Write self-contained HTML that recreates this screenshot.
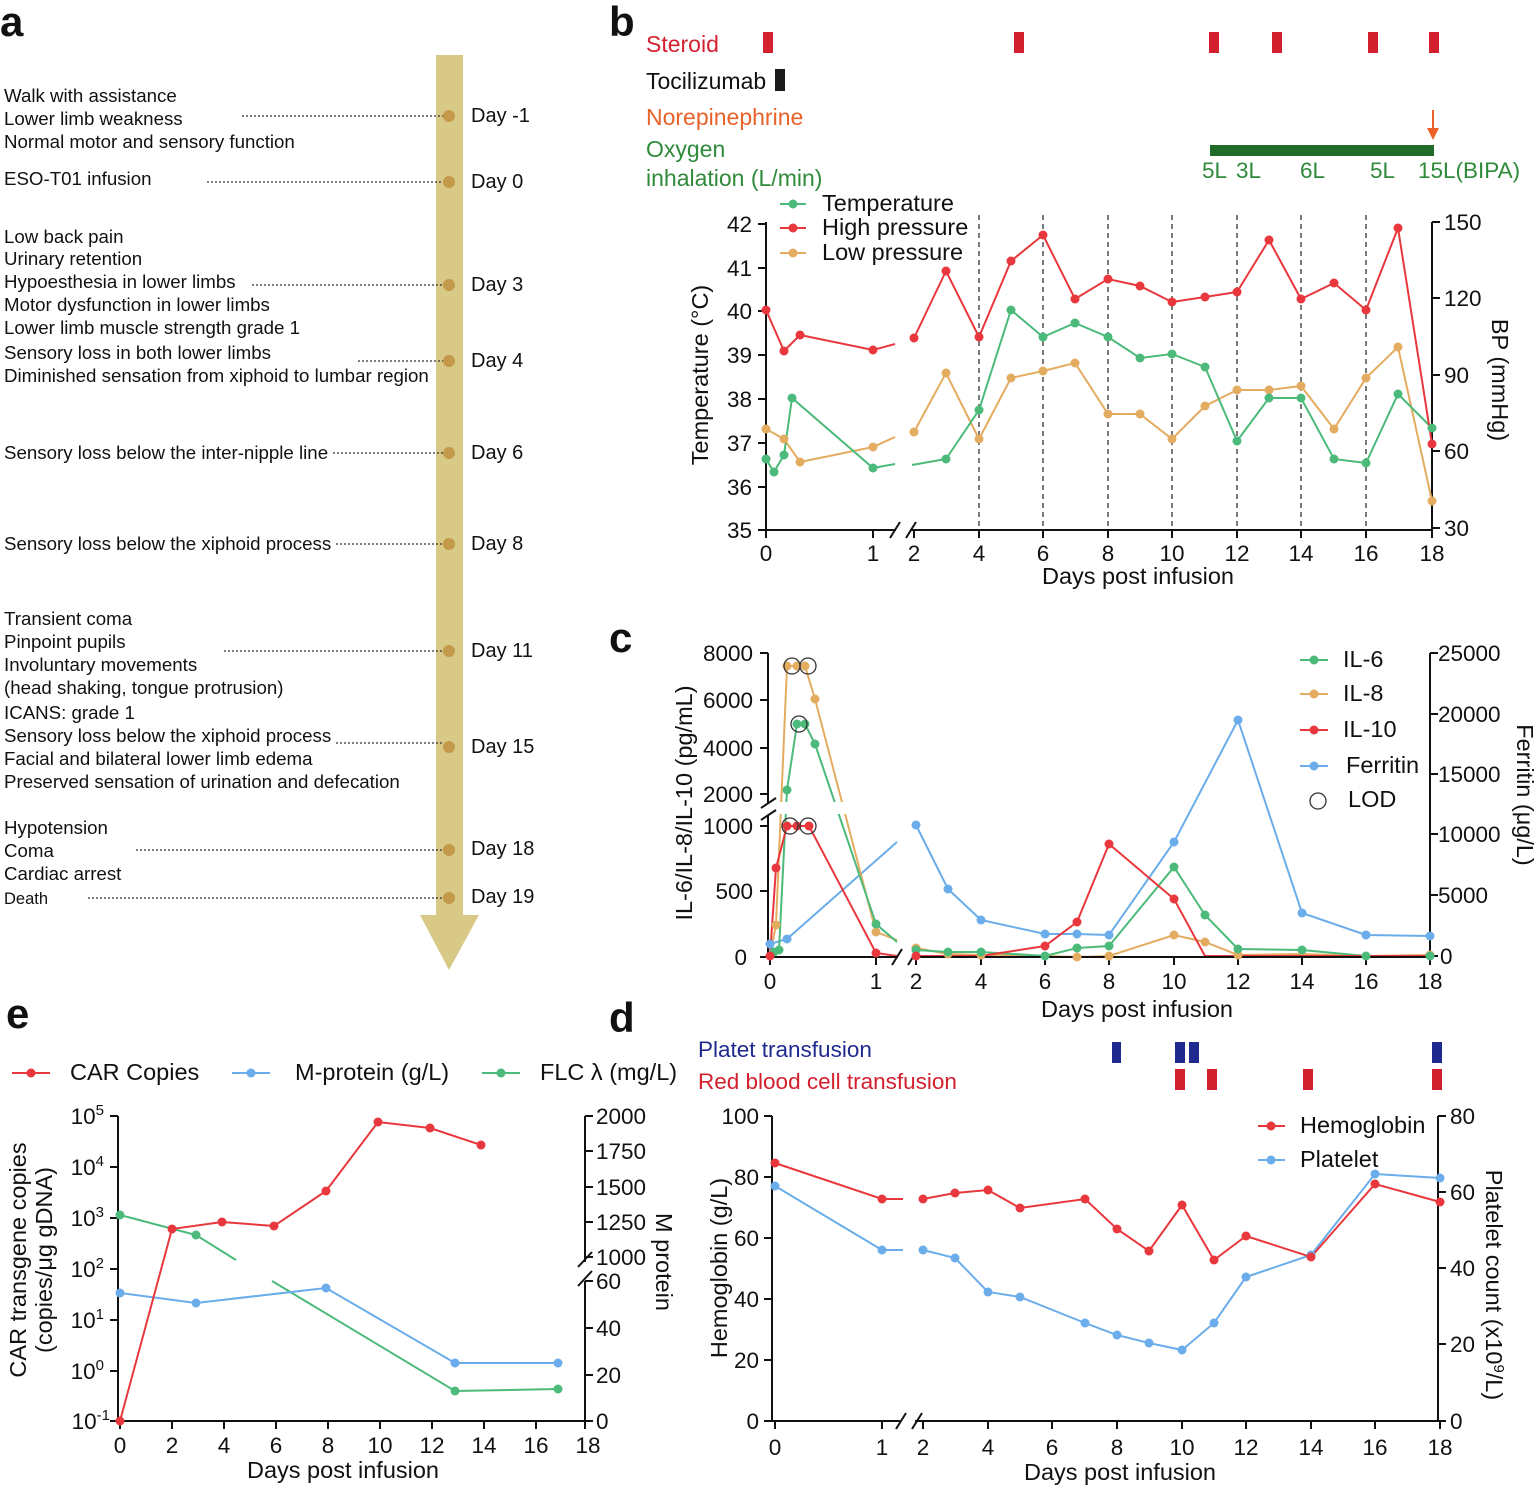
<!DOCTYPE html>
<html><head><meta charset="utf-8"><style>
html,body{margin:0;padding:0;background:#fff}
svg{display:block;font-family:"Liberation Sans",Arial,sans-serif}
</style></head><body>
<svg width="1536" height="1486" viewBox="0 0 1536 1486" xmlns="http://www.w3.org/2000/svg">
<defs>
<style>
.t{font-size:18.7px;fill:#111}
.ax{stroke:#111;stroke-width:2;fill:none}
.tk{font-size:22.5px;fill:#111}
.lb{font-size:23.5px;fill:#111}
.dy{font-size:20px;fill:#111}
.pl{font-size:42px;font-weight:bold;fill:#111}
.r{stroke:#e8383d;stroke-width:2;fill:none}
.g{stroke:#4cba7a;stroke-width:2;fill:none}
.o{stroke:#e4ac60;stroke-width:2;fill:none}
.b{stroke:#6aadea;stroke-width:2;fill:none}
.dr{fill:#e8383d}.dg{fill:#4cba7a}.do{fill:#e4ac60}.db{fill:#6aadea}
</style>
</defs>

<!-- Panel a -->
<text class="pl" x="0" y="36">a</text>
<rect x="436" y="55" width="27" height="862" fill="#d8c987"/>
<polygon points="420,915 479,915 449,970" fill="#d8c987"/>
<g fill="#c49a4a">
<circle cx="449" cy="116" r="6"/><circle cx="449" cy="182" r="6"/><circle cx="449" cy="285" r="6"/><circle cx="449" cy="361" r="6"/><circle cx="449" cy="453" r="6"/><circle cx="449" cy="544" r="6"/><circle cx="449" cy="651" r="6"/><circle cx="449" cy="747" r="6"/><circle cx="449" cy="850" r="6"/><circle cx="449" cy="898" r="6"/>
</g>
<g stroke="#333" stroke-width="1.3" stroke-dasharray="2,2">
<line x1="242" y1="116" x2="443" y2="116"/><line x1="207" y1="182" x2="443" y2="182"/><line x1="252" y1="285" x2="443" y2="285"/><line x1="358" y1="361" x2="443" y2="361"/><line x1="333" y1="453" x2="443" y2="453"/><line x1="336" y1="544" x2="443" y2="544"/><line x1="224" y1="651" x2="443" y2="651"/><line x1="336" y1="743" x2="443" y2="743"/><line x1="136" y1="850" x2="443" y2="850"/><line x1="88" y1="898" x2="443" y2="898"/>
</g>
<g>
<text x="471" y="122" class="dy">Day -1</text><text x="471" y="188" class="dy">Day 0</text><text x="471" y="291" class="dy">Day 3</text><text x="471" y="367" class="dy">Day 4</text><text x="471" y="459" class="dy">Day 6</text><text x="471" y="550" class="dy">Day 8</text><text x="471" y="657" class="dy">Day 11</text><text x="471" y="753" class="dy">Day 15</text><text x="471" y="855" class="dy">Day 18</text><text x="471" y="903" class="dy">Day 19</text>
</g>
<g class="t">
<text x="4" y="102">Walk with assistance</text><text x="4" y="125">Lower limb weakness</text><text x="4" y="148">Normal motor and sensory function</text>
<text x="4" y="185">ESO-T01 infusion</text>
<text x="4" y="243">Low back pain</text><text x="4" y="265">Urinary retention</text><text x="4" y="288">Hypoesthesia in lower limbs</text><text x="4" y="311">Motor dysfunction in lower limbs</text><text x="4" y="334">Lower limb muscle strength grade 1</text>
<text x="4" y="359">Sensory loss in both lower limbs</text><text x="4" y="382">Diminished sensation from xiphoid to lumbar region</text>
<text x="4" y="459">Sensory loss below the inter-nipple line</text>
<text x="4" y="550">Sensory loss below the xiphoid process</text>
<text x="4" y="625">Transient coma</text><text x="4" y="648">Pinpoint pupils</text><text x="4" y="671">Involuntary movements</text><text x="4" y="694">(head shaking, tongue protrusion)</text>
<text x="4" y="719">ICANS: grade 1</text><text x="4" y="742">Sensory loss below the xiphoid process</text><text x="4" y="765">Facial and bilateral lower limb edema</text><text x="4" y="788">Preserved sensation of urination and defecation</text>
<text x="4" y="834">Hypotension</text><text x="4" y="857">Coma</text><text x="4" y="880">Cardiac arrest</text><text x="4" y="904" font-size="16.5">Death</text>
</g>

<!-- Panel b -->
<text class="pl" x="609" y="36">b</text>
<text x="646" y="52" font-size="23" fill="#d3202f">Steroid</text>
<text x="646" y="89" font-size="23" fill="#111">Tocilizumab</text>
<text x="646" y="125" font-size="23" fill="#e8622a">Norepinephrine</text>
<text x="646" y="157" font-size="23" fill="#2f8a3a">Oxygen</text>
<text x="646" y="186" font-size="23" fill="#2f8a3a">inhalation (L/min)</text>
<g fill="#d3202f"><rect x="763" y="32" width="10" height="21"/><rect x="1014" y="32" width="10" height="21"/><rect x="1209" y="32" width="10" height="21"/><rect x="1272" y="32" width="10" height="21"/><rect x="1368" y="32" width="10" height="21"/><rect x="1429" y="32" width="10" height="21"/></g>
<rect x="775" y="69" width="10" height="22" fill="#1a1a1a"/>
<line x1="1433" y1="110" x2="1433" y2="134" stroke="#e8622a" stroke-width="2"/>
<polygon points="1427,128 1439,128 1433,140" fill="#e8622a"/>
<rect x="1210" y="145" width="224" height="11" fill="#1e6b2a"/>
<g font-size="22.5" fill="#2f8a3a"><text x="1202" y="178">5L</text><text x="1236" y="178">3L</text><text x="1300" y="178">6L</text><text x="1370" y="178">5L</text><text x="1418" y="178">15L(BIPA)</text></g>
<line x1="780" y1="204" x2="806" y2="204" class="g"/><circle cx="793" cy="204" r="4.5" class="dg"/>
<line x1="780" y1="228" x2="806" y2="228" class="r"/><circle cx="793" cy="228" r="4.5" class="dr"/>
<line x1="780" y1="253" x2="806" y2="253" class="o"/><circle cx="793" cy="253" r="4.5" class="do"/>
<text x="822" y="211" class="lb">Temperature</text><text x="822" y="235" class="lb">High pressure</text><text x="822" y="260" class="lb">Low pressure</text>
<g stroke="#333" stroke-width="1.3" stroke-dasharray="5,4">
<line x1="979" y1="215" x2="979" y2="530"/><line x1="1043" y1="215" x2="1043" y2="530"/><line x1="1108" y1="215" x2="1108" y2="530"/><line x1="1172" y1="215" x2="1172" y2="530"/><line x1="1237" y1="215" x2="1237" y2="530"/><line x1="1301" y1="215" x2="1301" y2="530"/><line x1="1366" y1="215" x2="1366" y2="530"/>
</g>
<path class="ax" d="M766,222 V530 H896 M910,530 H1432 V222"/>
<line x1="890" y1="538" x2="900" y2="522" stroke="#111" stroke-width="2"/><line x1="906" y1="538" x2="916" y2="522" stroke="#111" stroke-width="2"/>
<g stroke="#111" stroke-width="2">
<line x1="758" y1="224" x2="766" y2="224"/><line x1="758" y1="268" x2="766" y2="268"/><line x1="758" y1="311" x2="766" y2="311"/><line x1="758" y1="355" x2="766" y2="355"/><line x1="758" y1="399" x2="766" y2="399"/><line x1="758" y1="443" x2="766" y2="443"/><line x1="758" y1="487" x2="766" y2="487"/><line x1="758" y1="530" x2="766" y2="530"/>
<line x1="1432" y1="222" x2="1440" y2="222"/><line x1="1432" y1="298" x2="1440" y2="298"/><line x1="1432" y1="375" x2="1440" y2="375"/><line x1="1432" y1="451" x2="1440" y2="451"/><line x1="1432" y1="528" x2="1440" y2="528"/>
<line x1="766" y1="530" x2="766" y2="538"/><line x1="873" y1="530" x2="873" y2="538"/><line x1="914" y1="530" x2="914" y2="538"/><line x1="979" y1="530" x2="979" y2="538"/><line x1="1043" y1="530" x2="1043" y2="538"/><line x1="1108" y1="530" x2="1108" y2="538"/><line x1="1172" y1="530" x2="1172" y2="538"/><line x1="1237" y1="530" x2="1237" y2="538"/><line x1="1301" y1="530" x2="1301" y2="538"/><line x1="1366" y1="530" x2="1366" y2="538"/><line x1="1432" y1="530" x2="1432" y2="538"/>
</g>
<g class="tk" text-anchor="end">
<text x="752" y="232">42</text><text x="752" y="276">41</text><text x="752" y="319">40</text><text x="752" y="363">39</text><text x="752" y="407">38</text><text x="752" y="451">37</text><text x="752" y="495">36</text><text x="752" y="538">35</text>
</g>
<g class="tk"><text x="1444" y="230">150</text><text x="1444" y="306">120</text><text x="1444" y="383">90</text><text x="1444" y="459">60</text><text x="1444" y="536">30</text></g>
<g class="tk" text-anchor="middle"><text x="766" y="561">0</text><text x="873" y="561">1</text><text x="914" y="561">2</text><text x="979" y="561">4</text><text x="1043" y="561">6</text><text x="1108" y="561">8</text><text x="1172" y="561">10</text><text x="1237" y="561">12</text><text x="1301" y="561">14</text><text x="1366" y="561">16</text><text x="1432" y="561">18</text></g>
<text x="1138" y="584" class="lb" text-anchor="middle">Days post infusion</text>
<text transform="translate(708,375) rotate(-90)" class="lb" text-anchor="middle">Temperature (°C)</text>
<text transform="translate(1492,380) rotate(90)" class="lb" text-anchor="middle">BP (mmHg)</text>
<polyline class="o" points="766,429 784,439 800,462 873,447 895,437"/>
<polyline class="o" points="914,432 946,373 979,439 1011,378 1043,371 1075,363 1108,414 1140,414 1172,439 1205,406 1237,390 1269,390 1301,386 1334,429 1366,378 1398,347 1432,501"/>
<polyline class="g" points="766,459 774,472 784,455 792,398 873,468 895,464"/>
<polyline class="g" points="912,465 946,459 979,410 1011,310 1043,337 1075,323 1108,337 1140,358 1172,354 1205,367 1237,441 1269,398 1301,398 1334,459 1366,463 1398,394 1432,428"/>
<polyline class="r" points="766,310 784,351 800,335 873,350 895,344"/>
<polyline class="r" points="914,338 946,271 979,337 1011,261 1043,235 1075,299 1108,279 1140,286 1172,302 1205,297 1237,292 1269,240 1301,299 1334,283 1366,310 1398,228 1432,444"/>
<g class="do"><circle cx="766" cy="429" r="4.5"/><circle cx="784" cy="439" r="4.5"/><circle cx="800" cy="462" r="4.5"/><circle cx="873" cy="447" r="4.5"/><circle cx="914" cy="432" r="4.5"/><circle cx="946" cy="373" r="4.5"/><circle cx="979" cy="439" r="4.5"/><circle cx="1011" cy="378" r="4.5"/><circle cx="1043" cy="371" r="4.5"/><circle cx="1075" cy="363" r="4.5"/><circle cx="1108" cy="414" r="4.5"/><circle cx="1140" cy="414" r="4.5"/><circle cx="1172" cy="439" r="4.5"/><circle cx="1205" cy="406" r="4.5"/><circle cx="1237" cy="390" r="4.5"/><circle cx="1269" cy="390" r="4.5"/><circle cx="1301" cy="386" r="4.5"/><circle cx="1334" cy="429" r="4.5"/><circle cx="1366" cy="378" r="4.5"/><circle cx="1398" cy="347" r="4.5"/><circle cx="1432" cy="501" r="4.5"/></g>
<g class="dg"><circle cx="766" cy="459" r="4.5"/><circle cx="774" cy="472" r="4.5"/><circle cx="784" cy="455" r="4.5"/><circle cx="792" cy="398" r="4.5"/><circle cx="873" cy="468" r="4.5"/><circle cx="946" cy="459" r="4.5"/><circle cx="979" cy="410" r="4.5"/><circle cx="1011" cy="310" r="4.5"/><circle cx="1043" cy="337" r="4.5"/><circle cx="1075" cy="323" r="4.5"/><circle cx="1108" cy="337" r="4.5"/><circle cx="1140" cy="358" r="4.5"/><circle cx="1172" cy="354" r="4.5"/><circle cx="1205" cy="367" r="4.5"/><circle cx="1237" cy="441" r="4.5"/><circle cx="1269" cy="398" r="4.5"/><circle cx="1301" cy="398" r="4.5"/><circle cx="1334" cy="459" r="4.5"/><circle cx="1366" cy="463" r="4.5"/><circle cx="1398" cy="394" r="4.5"/><circle cx="1432" cy="428" r="4.5"/></g>
<g class="dr"><circle cx="766" cy="310" r="4.5"/><circle cx="784" cy="351" r="4.5"/><circle cx="800" cy="335" r="4.5"/><circle cx="873" cy="350" r="4.5"/><circle cx="914" cy="338" r="4.5"/><circle cx="946" cy="271" r="4.5"/><circle cx="979" cy="337" r="4.5"/><circle cx="1011" cy="261" r="4.5"/><circle cx="1043" cy="235" r="4.5"/><circle cx="1075" cy="299" r="4.5"/><circle cx="1108" cy="279" r="4.5"/><circle cx="1140" cy="286" r="4.5"/><circle cx="1172" cy="302" r="4.5"/><circle cx="1205" cy="297" r="4.5"/><circle cx="1237" cy="292" r="4.5"/><circle cx="1269" cy="240" r="4.5"/><circle cx="1301" cy="299" r="4.5"/><circle cx="1334" cy="283" r="4.5"/><circle cx="1366" cy="310" r="4.5"/><circle cx="1398" cy="228" r="4.5"/><circle cx="1432" cy="444" r="4.5"/></g>

<!-- Panel c -->
<text class="pl" x="609" y="652">c</text>
<polyline class="b" points="770,944 787,939 897,842"/>
<polyline class="b" points="916,825 948,889 981,920 1045,934 1077,934 1109,935 1174,842 1238,720 1302,913 1366,935 1430,936"/>
<polyline class="o" points="770,956 776,925 787,666 797,666 805,666 815,699 876,932 897,940"/>
<polyline class="o" points="916,948 948,954 981,955 1045,956 1077,957 1109,956 1174,935 1205,942 1238,955 1302,954 1366,956 1430,955"/>
<polyline class="g" points="770,956 774,952 779,950 787,790 797,724 805,724 815,744 876,924 897,942"/>
<polyline class="g" points="916,950 948,952 981,952 1045,956 1077,948 1109,946 1174,867 1205,915 1238,949 1302,950 1366,956 1430,956"/>
<polyline class="r" points="770,956 776,868 787,826 797,826 809,826 876,953 897,956"/>
<polyline class="r" points="916,956 981,956 1045,946 1077,922 1109,844 1174,899 1205,956 1238,956 1430,956"/>
<rect x="770" y="802" width="80" height="12" fill="#fff"/>
<path class="ax" d="M768,653 V803 M768,815 V957 H898 M912,957 H1430 V653"/>
<line x1="761" y1="808" x2="776" y2="798" stroke="#111" stroke-width="2"/><line x1="761" y1="820" x2="776" y2="810" stroke="#111" stroke-width="2"/>
<line x1="892" y1="965" x2="902" y2="949" stroke="#111" stroke-width="2"/><line x1="908" y1="965" x2="918" y2="949" stroke="#111" stroke-width="2"/>
<g stroke="#111" stroke-width="2">
<line x1="760" y1="653" x2="768" y2="653"/><line x1="760" y1="700" x2="768" y2="700"/><line x1="760" y1="748" x2="768" y2="748"/><line x1="760" y1="794" x2="768" y2="794"/><line x1="760" y1="826" x2="768" y2="826"/><line x1="760" y1="891" x2="768" y2="891"/><line x1="760" y1="957" x2="768" y2="957"/>
<line x1="1430" y1="653" x2="1438" y2="653"/><line x1="1430" y1="714" x2="1438" y2="714"/><line x1="1430" y1="774" x2="1438" y2="774"/><line x1="1430" y1="834" x2="1438" y2="834"/><line x1="1430" y1="895" x2="1438" y2="895"/><line x1="1430" y1="956" x2="1438" y2="956"/>
<line x1="770" y1="957" x2="770" y2="965"/><line x1="876" y1="957" x2="876" y2="965"/><line x1="916" y1="957" x2="916" y2="965"/><line x1="981" y1="957" x2="981" y2="965"/><line x1="1045" y1="957" x2="1045" y2="965"/><line x1="1109" y1="957" x2="1109" y2="965"/><line x1="1174" y1="957" x2="1174" y2="965"/><line x1="1238" y1="957" x2="1238" y2="965"/><line x1="1302" y1="957" x2="1302" y2="965"/><line x1="1366" y1="957" x2="1366" y2="965"/><line x1="1430" y1="957" x2="1430" y2="965"/>
</g>
<g class="tk" text-anchor="end"><text x="753" y="661">8000</text><text x="753" y="708">6000</text><text x="753" y="756">4000</text><text x="753" y="802">2000</text><text x="753" y="834">1000</text><text x="753" y="899">500</text><text x="747" y="965">0</text></g>
<g class="tk"><text x="1438" y="661">25000</text><text x="1438" y="722">20000</text><text x="1438" y="782">15000</text><text x="1438" y="842">10000</text><text x="1438" y="903">5000</text><text x="1440" y="964">0</text></g>
<g class="tk" text-anchor="middle"><text x="770" y="989">0</text><text x="876" y="989">1</text><text x="916" y="989">2</text><text x="981" y="989">4</text><text x="1045" y="989">6</text><text x="1109" y="989">8</text><text x="1174" y="989">10</text><text x="1238" y="989">12</text><text x="1302" y="989">14</text><text x="1366" y="989">16</text><text x="1430" y="989">18</text></g>
<text x="1137" y="1017" class="lb" text-anchor="middle">Days post infusion</text>
<text transform="translate(692,803) rotate(-90)" class="lb" text-anchor="middle">IL-6/IL-8/IL-10 (pg/mL)</text>
<text transform="translate(1517,795) rotate(90)" class="lb" text-anchor="middle">Ferritin (μg/L)</text>
<g class="db"><circle cx="770" cy="944" r="4.5"/><circle cx="787" cy="939" r="4.5"/><circle cx="916" cy="825" r="4.5"/><circle cx="948" cy="889" r="4.5"/><circle cx="981" cy="920" r="4.5"/><circle cx="1045" cy="934" r="4.5"/><circle cx="1077" cy="934" r="4.5"/><circle cx="1109" cy="935" r="4.5"/><circle cx="1174" cy="842" r="4.5"/><circle cx="1238" cy="720" r="4.5"/><circle cx="1302" cy="913" r="4.5"/><circle cx="1366" cy="935" r="4.5"/><circle cx="1430" cy="936" r="4.5"/></g>
<g class="do"><circle cx="776" cy="925" r="4.5"/><circle cx="787" cy="666" r="4.5"/><circle cx="797" cy="666" r="4.5"/><circle cx="805" cy="666" r="4.5"/><circle cx="815" cy="699" r="4.5"/><circle cx="876" cy="932" r="4.5"/><circle cx="916" cy="948" r="4.5"/><circle cx="948" cy="954" r="4.5"/><circle cx="981" cy="955" r="4.5"/><circle cx="1077" cy="957" r="4.5"/><circle cx="1109" cy="956" r="4.5"/><circle cx="1174" cy="935" r="4.5"/><circle cx="1205" cy="942" r="4.5"/><circle cx="1238" cy="955" r="4.5"/><circle cx="1430" cy="955" r="4.5"/></g>
<g class="dg"><circle cx="774" cy="952" r="4.5"/><circle cx="779" cy="950" r="4.5"/><circle cx="787" cy="790" r="4.5"/><circle cx="797" cy="724" r="4.5"/><circle cx="805" cy="724" r="4.5"/><circle cx="815" cy="744" r="4.5"/><circle cx="876" cy="924" r="4.5"/><circle cx="916" cy="950" r="4.5"/><circle cx="948" cy="952" r="4.5"/><circle cx="981" cy="952" r="4.5"/><circle cx="1045" cy="956" r="4.5"/><circle cx="1077" cy="948" r="4.5"/><circle cx="1109" cy="946" r="4.5"/><circle cx="1174" cy="867" r="4.5"/><circle cx="1205" cy="915" r="4.5"/><circle cx="1238" cy="949" r="4.5"/><circle cx="1302" cy="950" r="4.5"/><circle cx="1366" cy="956" r="4.5"/><circle cx="1430" cy="956" r="4.5"/></g>
<g class="dr"><circle cx="770" cy="956" r="4.5"/><circle cx="776" cy="868" r="4.5"/><circle cx="787" cy="826" r="4.5"/><circle cx="797" cy="826" r="4.5"/><circle cx="809" cy="826" r="4.5"/><circle cx="876" cy="953" r="4.5"/><circle cx="916" cy="956" r="4.5"/><circle cx="1045" cy="946" r="4.5"/><circle cx="1077" cy="922" r="4.5"/><circle cx="1109" cy="844" r="4.5"/><circle cx="1174" cy="899" r="4.5"/></g>
<g fill="none" stroke="#333" stroke-width="1.3"><circle cx="792" cy="666" r="8"/><circle cx="808" cy="666" r="8"/><circle cx="799" cy="724" r="8"/><circle cx="790" cy="826" r="8"/><circle cx="808" cy="826" r="8"/></g>
<line x1="1300" y1="660" x2="1328" y2="660" class="g"/><circle cx="1314" cy="660" r="4.5" class="dg"/>
<line x1="1300" y1="694" x2="1328" y2="694" class="o"/><circle cx="1314" cy="694" r="4.5" class="do"/>
<line x1="1300" y1="730" x2="1328" y2="730" class="r"/><circle cx="1314" cy="730" r="4.5" class="dr"/>
<line x1="1300" y1="766" x2="1328" y2="766" class="b"/><circle cx="1314" cy="766" r="4.5" class="db"/>
<circle cx="1318" cy="801" r="8" fill="none" stroke="#333" stroke-width="1.3"/>
<g class="lb"><text x="1343" y="667">IL-6</text><text x="1343" y="701">IL-8</text><text x="1343" y="737">IL-10</text><text x="1346" y="773">Ferritin</text><text x="1348" y="807">LOD</text></g>

<!-- Panel d -->
<text class="pl" x="609" y="1032">d</text>
<text x="698" y="1057" font-size="22.5" fill="#1f2a8f">Platet transfusion</text>
<text x="698" y="1089" font-size="22.5" fill="#d3202f">Red blood cell transfusion</text>
<g fill="#1f2a8f"><rect x="1112" y="1042" width="9" height="21"/><rect x="1175" y="1042" width="10" height="21"/><rect x="1189" y="1042" width="10" height="21"/><rect x="1432" y="1042" width="10" height="21"/></g>
<g fill="#d3202f"><rect x="1175" y="1069" width="10" height="21"/><rect x="1207" y="1069" width="10" height="21"/><rect x="1303" y="1069" width="10" height="21"/><rect x="1432" y="1069" width="10" height="21"/></g>
<path class="ax" d="M772,1116 V1421 H900 M915,1421 H1438 V1116"/>
<line x1="896" y1="1429" x2="906" y2="1413" stroke="#111" stroke-width="2"/><line x1="912" y1="1429" x2="922" y2="1413" stroke="#111" stroke-width="2"/>
<g stroke="#111" stroke-width="2">
<line x1="764" y1="1116" x2="772" y2="1116"/><line x1="764" y1="1177" x2="772" y2="1177"/><line x1="764" y1="1238" x2="772" y2="1238"/><line x1="764" y1="1299" x2="772" y2="1299"/><line x1="764" y1="1360" x2="772" y2="1360"/><line x1="764" y1="1421" x2="772" y2="1421"/>
<line x1="1438" y1="1116" x2="1446" y2="1116"/><line x1="1438" y1="1192" x2="1446" y2="1192"/><line x1="1438" y1="1268" x2="1446" y2="1268"/><line x1="1438" y1="1344" x2="1446" y2="1344"/><line x1="1438" y1="1421" x2="1446" y2="1421"/>
<line x1="775" y1="1421" x2="775" y2="1429"/><line x1="882" y1="1421" x2="882" y2="1429"/><line x1="923" y1="1421" x2="923" y2="1429"/><line x1="988" y1="1421" x2="988" y2="1429"/><line x1="1052" y1="1421" x2="1052" y2="1429"/><line x1="1117" y1="1421" x2="1117" y2="1429"/><line x1="1182" y1="1421" x2="1182" y2="1429"/><line x1="1246" y1="1421" x2="1246" y2="1429"/><line x1="1311" y1="1421" x2="1311" y2="1429"/><line x1="1375" y1="1421" x2="1375" y2="1429"/><line x1="1440" y1="1421" x2="1440" y2="1429"/>
</g>
<g class="tk" text-anchor="end"><text x="759" y="1124">100</text><text x="759" y="1185">80</text><text x="759" y="1246">60</text><text x="759" y="1307">40</text><text x="759" y="1368">20</text><text x="759" y="1429">0</text></g>
<g class="tk"><text x="1450" y="1124">80</text><text x="1450" y="1200">60</text><text x="1450" y="1276">40</text><text x="1450" y="1352">20</text><text x="1450" y="1429">0</text></g>
<g class="tk" text-anchor="middle"><text x="775" y="1455">0</text><text x="882" y="1455">1</text><text x="923" y="1455">2</text><text x="988" y="1455">4</text><text x="1052" y="1455">6</text><text x="1117" y="1455">8</text><text x="1182" y="1455">10</text><text x="1246" y="1455">12</text><text x="1311" y="1455">14</text><text x="1375" y="1455">16</text><text x="1440" y="1455">18</text></g>
<text x="1120" y="1480" class="lb" text-anchor="middle">Days post infusion</text>
<text transform="translate(727,1268) rotate(-90)" class="lb" text-anchor="middle">Hemoglobin (g/L)</text>
<text transform="translate(1486,1285) rotate(90)" class="lb" text-anchor="middle">Platelet count (x10<tspan font-size="15" dy="-8">9</tspan><tspan dy="8">/L)</tspan></text>
<polyline class="b" points="775,1186 882,1250 903,1250"/>
<polyline class="b" points="923,1250 955,1258 988,1292 1020,1297 1085,1323 1117,1335 1149,1343 1182,1350 1214,1323 1246,1277 1311,1255 1375,1174 1440,1178"/>
<polyline class="r" points="775,1163 882,1199 903,1199"/>
<polyline class="r" points="923,1199 955,1193 988,1190 1020,1208 1085,1199 1117,1229 1149,1251 1182,1205 1214,1260 1246,1236 1311,1257 1375,1184 1440,1202"/>
<g class="db"><circle cx="775" cy="1186" r="4.5"/><circle cx="882" cy="1250" r="4.5"/><circle cx="923" cy="1250" r="4.5"/><circle cx="955" cy="1258" r="4.5"/><circle cx="988" cy="1292" r="4.5"/><circle cx="1020" cy="1297" r="4.5"/><circle cx="1085" cy="1323" r="4.5"/><circle cx="1117" cy="1335" r="4.5"/><circle cx="1149" cy="1343" r="4.5"/><circle cx="1182" cy="1350" r="4.5"/><circle cx="1214" cy="1323" r="4.5"/><circle cx="1246" cy="1277" r="4.5"/><circle cx="1311" cy="1255" r="4.5"/><circle cx="1375" cy="1174" r="4.5"/><circle cx="1440" cy="1178" r="4.5"/></g>
<g class="dr"><circle cx="775" cy="1163" r="4.5"/><circle cx="882" cy="1199" r="4.5"/><circle cx="923" cy="1199" r="4.5"/><circle cx="955" cy="1193" r="4.5"/><circle cx="988" cy="1190" r="4.5"/><circle cx="1020" cy="1208" r="4.5"/><circle cx="1085" cy="1199" r="4.5"/><circle cx="1117" cy="1229" r="4.5"/><circle cx="1149" cy="1251" r="4.5"/><circle cx="1182" cy="1205" r="4.5"/><circle cx="1214" cy="1260" r="4.5"/><circle cx="1246" cy="1236" r="4.5"/><circle cx="1311" cy="1257" r="4.5"/><circle cx="1375" cy="1184" r="4.5"/><circle cx="1440" cy="1202" r="4.5"/></g>
<line x1="1258" y1="1126" x2="1285" y2="1126" class="r"/><circle cx="1271" cy="1126" r="4.5" class="dr"/>
<line x1="1258" y1="1160" x2="1285" y2="1160" class="b"/><circle cx="1271" cy="1160" r="4.5" class="db"/>
<text x="1300" y="1133" class="lb">Hemoglobin</text><text x="1300" y="1167" class="lb">Platelet</text>

<!-- Panel e -->
<text class="pl" x="6" y="1028">e</text>
<line x1="12" y1="1073" x2="50" y2="1073" class="r"/><circle cx="31" cy="1073" r="4.5" class="dr"/>
<line x1="232" y1="1073" x2="270" y2="1073" class="b"/><circle cx="251" cy="1073" r="4.5" class="db"/>
<line x1="482" y1="1073" x2="520" y2="1073" class="g"/><circle cx="501" cy="1073" r="4.5" class="dg"/>
<text x="70" y="1080" class="lb">CAR Copies</text><text x="295" y="1080" class="lb">M-protein (g/L)</text><text x="540" y="1080" class="lb">FLC λ (mg/L)</text>
<path class="ax" d="M118,1116 V1421 H585 V1281 M585,1262 V1116"/>
<line x1="578" y1="1267" x2="592" y2="1252" stroke="#111" stroke-width="2"/><line x1="578" y1="1286" x2="592" y2="1271" stroke="#111" stroke-width="2"/>
<g stroke="#111" stroke-width="2">
<line x1="110" y1="1116" x2="118" y2="1116"/><line x1="110" y1="1167" x2="118" y2="1167"/><line x1="110" y1="1218" x2="118" y2="1218"/><line x1="110" y1="1269" x2="118" y2="1269"/><line x1="110" y1="1320" x2="118" y2="1320"/><line x1="110" y1="1371" x2="118" y2="1371"/><line x1="110" y1="1421" x2="118" y2="1421"/>
<line x1="585" y1="1116" x2="593" y2="1116"/><line x1="585" y1="1151" x2="593" y2="1151"/><line x1="585" y1="1187" x2="593" y2="1187"/><line x1="585" y1="1222" x2="593" y2="1222"/><line x1="585" y1="1257" x2="593" y2="1257"/><line x1="585" y1="1281" x2="593" y2="1281"/><line x1="585" y1="1328" x2="593" y2="1328"/><line x1="585" y1="1375" x2="593" y2="1375"/><line x1="585" y1="1421" x2="593" y2="1421"/>
<line x1="120" y1="1421" x2="120" y2="1429"/><line x1="172" y1="1421" x2="172" y2="1429"/><line x1="224" y1="1421" x2="224" y2="1429"/><line x1="276" y1="1421" x2="276" y2="1429"/><line x1="328" y1="1421" x2="328" y2="1429"/><line x1="380" y1="1421" x2="380" y2="1429"/><line x1="432" y1="1421" x2="432" y2="1429"/><line x1="484" y1="1421" x2="484" y2="1429"/><line x1="536" y1="1421" x2="536" y2="1429"/><line x1="585" y1="1421" x2="585" y2="1429"/>
</g>
<g class="tk" text-anchor="end">
<text x="104" y="1124">10<tspan font-size="15" dy="-9">5</tspan></text>
<text x="104" y="1175">10<tspan font-size="15" dy="-9">4</tspan></text>
<text x="104" y="1226">10<tspan font-size="15" dy="-9">3</tspan></text>
<text x="104" y="1277">10<tspan font-size="15" dy="-9">2</tspan></text>
<text x="104" y="1328">10<tspan font-size="15" dy="-9">1</tspan></text>
<text x="104" y="1379">10<tspan font-size="15" dy="-9">0</tspan></text>
<text x="110" y="1429">10<tspan font-size="15" dy="-9">-1</tspan></text>
</g>
<g class="tk"><text x="596" y="1124">2000</text><text x="596" y="1159">1750</text><text x="596" y="1195">1500</text><text x="596" y="1230">1250</text><text x="596" y="1265">1000</text><text x="596" y="1289">60</text><text x="596" y="1336">40</text><text x="596" y="1383">20</text><text x="596" y="1429">0</text></g>
<g class="tk" text-anchor="middle"><text x="120" y="1453">0</text><text x="172" y="1453">2</text><text x="224" y="1453">4</text><text x="276" y="1453">6</text><text x="328" y="1453">8</text><text x="380" y="1453">10</text><text x="432" y="1453">12</text><text x="484" y="1453">14</text><text x="536" y="1453">16</text><text x="588" y="1453">18</text></g>
<text x="343" y="1478" class="lb" text-anchor="middle">Days post infusion</text>
<text transform="translate(26,1260) rotate(-90)" class="lb" text-anchor="middle">CAR transgene copies</text>
<text transform="translate(52,1260) rotate(-90)" class="lb" text-anchor="middle">(copies/μg gDNA)</text>
<text transform="translate(656,1262) rotate(90)" class="lb" text-anchor="middle">M protein</text>
<polyline class="g" points="120,1215 196,1235 236,1260"/>
<polyline class="g" points="272,1281 455,1391 558,1389"/>
<polyline class="b" points="120,1293 196,1303 326,1288 455,1363 558,1363"/>
<polyline class="r" points="120,1421 172,1229 222,1222 274,1226 326,1191 378,1122 430,1128 481,1145"/>
<g class="dg"><circle cx="120" cy="1215" r="4.5"/><circle cx="196" cy="1235" r="4.5"/><circle cx="455" cy="1391" r="4.5"/><circle cx="558" cy="1389" r="4.5"/></g>
<g class="db"><circle cx="120" cy="1293" r="4.5"/><circle cx="196" cy="1303" r="4.5"/><circle cx="326" cy="1288" r="4.5"/><circle cx="455" cy="1363" r="4.5"/><circle cx="558" cy="1363" r="4.5"/></g>
<g class="dr"><circle cx="120" cy="1421" r="4.5"/><circle cx="172" cy="1229" r="4.5"/><circle cx="222" cy="1222" r="4.5"/><circle cx="274" cy="1226" r="4.5"/><circle cx="326" cy="1191" r="4.5"/><circle cx="378" cy="1122" r="4.5"/><circle cx="430" cy="1128" r="4.5"/><circle cx="481" cy="1145" r="4.5"/></g>
</svg>
</body></html>
